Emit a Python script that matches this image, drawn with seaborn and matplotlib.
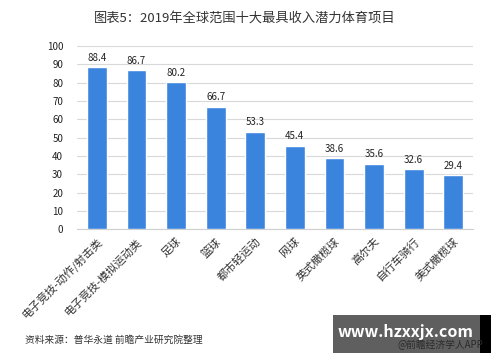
import pandas as pd
import matplotlib.pyplot as plt
import seaborn as sns
from matplotlib.patches import Rectangle

# data
sports = ['电子竞技-动作/射击类', '电子竞技-模拟运动类', '足球', '篮球', '都市轻运动',
          '网球', '英式橄榄球', '高尔夫', '自行车骑行', '美式橄榄球']
scores = [88.4, 86.7, 80.2, 66.7, 53.3, 45.4, 38.6, 35.6, 32.6, 29.4]
yticks = list(range(0, 101, 10))

df = pd.DataFrame({'sport': sports, 'score': scores})

sns.set_style('white')
plt.rcParams['font.family'] = ['Noto Sans CJK SC', 'DejaVu Sans']

fig = plt.figure(figsize=(5, 3.62), dpi=100)
ax = fig.add_axes([0.154, 0.367, 0.792, 0.506])

sns.barplot(data=df, x='sport', y='score', color='#3b84de', width=0.5,
            saturation=1, ax=ax, zorder=3)

for i, v in enumerate(scores):
    ax.text(i, v + 2.5, f'{v:.1f}', ha='center', va='bottom', fontsize=7, color='#222222')

ax.set_ylim(0, 100)
ax.set_yticks(yticks)
ax.set_xlim(-0.5, len(sports) - 0.5)
ax.grid(axis='y', color='#d9d9d9', linewidth=0.8, zorder=0)
ax.set_xlabel('')
ax.set_ylabel('')
for s in ['top', 'right', 'left']:
    ax.spines[s].set_visible(False)
ax.spines['bottom'].set_color('#d0d0d0')
ax.tick_params(axis='y', labelsize=7, length=0, colors='#222222', pad=10)
ax.tick_params(axis='x', labelsize=8, length=0, colors='#333333', pad=5)
plt.setp(ax.get_xticklabels(), rotation=45, ha='right', rotation_mode='anchor')

fig.text(0.49, 0.95, '图表5：2019年全球范围十大最具收入潜力体育项目', ha='center', va='center',
         fontsize=9.5, color='#333333')
fig.text(0.05, 0.062, '资料来源：普华永道 前瞻产业研究院整理', ha='left', va='center',
         fontsize=7, color='#333333')

# watermark box bottom right
fig.patches.append(Rectangle((0.666, 0.025), 0.294, 0.105, transform=fig.transFigure,
                             facecolor='#5f5f5f', edgecolor='none'))
fig.patches.append(Rectangle((0.96, 0.025), 0.022, 0.105, transform=fig.transFigure,
                             facecolor='#000000', edgecolor='none'))
fig.text(0.88, 0.048, '@前瞻经济学人APP', ha='center', va='center', fontsize=7,
         color='#2a2a2a')
fig.text(0.81, 0.083, 'www.hzxxjx.com', ha='center', va='center', fontsize=11.5,
         fontweight='bold', color='white')

fig.savefig('out.png', dpi=100)
